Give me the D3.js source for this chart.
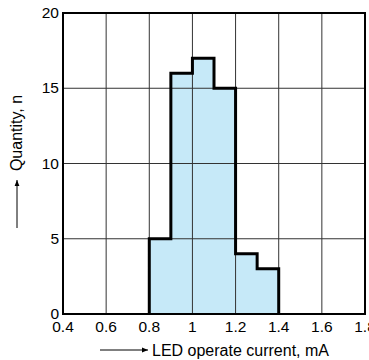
<!DOCTYPE html>
<html lang="en">
  <head>
    <meta charset="UTF-8" />
    <title>LED operate current histogram</title>
    <script src="https://d3js.org/d3.v7.min.js"></script>
    <style>
      body { margin: 0; background: #fff; }
      text { font-family: "Liberation Sans", Arial, sans-serif; fill: #000; }
    </style>
  </head>
  <body>
    <svg id="chart"></svg>
    <script>
      const WIDTH = 369;
      const HEIGHT = 360;

      // histogram bins (mA) and counts
      const binStarts = [0.8, 0.9, 1.0, 1.1, 1.2, 1.3];
      const binWidth = 0.1;
      const counts = [5, 16, 17, 15, 4, 3];

      const xTicks = [0.4, 0.6, 0.8, 1.0, 1.2, 1.4, 1.6, 1.8];
      const yTicks = [0, 5, 10, 15, 20];

      const margin = { top: 13, right: 4, bottom: 46, left: 63 };

      const svg = d3.select("#chart").attr("width", WIDTH).attr("height", HEIGHT);

      const x = d3.scaleLinear().domain([0.4, 1.8]).range([margin.left, WIDTH - margin.right]);
      const y = d3.scaleLinear().domain([0, 20]).range([HEIGHT - margin.bottom, margin.top]);

      // step outline of the histogram
      const pts = [[binStarts[0], 0]];
      binStarts.forEach((b, i) => {
        pts.push([b, counts[i]]);
        pts.push([b + binWidth, counts[i]]);
      });
      pts.push([binStarts[binStarts.length - 1] + binWidth, 0]);
      const line = d3.line().x((d) => x(d[0])).y((d) => y(d[1]));

      svg.append("path")
        .attr("d", line(pts) + "Z")
        .attr("fill", "#c6e9f8")
        .attr("stroke", "none");

      // grid
      const grid = svg.append("g");
      grid.selectAll(".vg")
        .data(xTicks.slice(1, -1))
        .enter()
        .append("line")
        .attr("x1", (d) => x(d)).attr("x2", (d) => x(d))
        .attr("y1", y(0)).attr("y2", y(20))
        .attr("stroke", "#333").attr("stroke-width", 1);
      grid.selectAll(".hg")
        .data(yTicks.slice(1, -1))
        .enter()
        .append("line")
        .attr("x1", x(0.4)).attr("x2", x(1.8))
        .attr("y1", (d) => y(d)).attr("y2", (d) => y(d))
        .attr("stroke", "#333").attr("stroke-width", 1);

      // frame
      svg.append("rect")
        .attr("x", x(0.4)).attr("y", y(20))
        .attr("width", x(1.8) - x(0.4)).attr("height", y(0) - y(20))
        .attr("fill", "none").attr("stroke", "#000").attr("stroke-width", 2);

      // histogram outline
      svg.append("path")
        .attr("d", line(pts))
        .attr("fill", "none")
        .attr("stroke", "#000")
        .attr("stroke-width", 3)
        .attr("stroke-linejoin", "miter");

      // tick labels
      svg.append("g").selectAll("text")
        .data(xTicks)
        .enter()
        .append("text")
        .attr("x", (d) => x(d))
        .attr("y", y(0) + 18)
        .attr("text-anchor", "middle")
        .attr("font-size", 15.5)
        .text((d) => d3.format("~g")(d));

      svg.append("g").selectAll("text")
        .data(yTicks)
        .enter()
        .append("text")
        .attr("x", x(0.4) - 4)
        .attr("y", (d) => y(d) + 5)
        .attr("text-anchor", "end")
        .attr("font-size", 15.5)
        .text((d) => d);

      // arrow marker
      svg.append("defs").append("marker")
        .attr("id", "arrow")
        .attr("viewBox", "0 0 10 10")
        .attr("refX", 10).attr("refY", 5)
        .attr("markerWidth", 6).attr("markerHeight", 6)
        .attr("markerUnits", "userSpaceOnUse")
        .attr("orient", "auto")
        .append("path")
        .attr("d", "M0,1L10,5L0,9Z")
        .attr("fill", "#000");

      // x axis title
      svg.append("line")
        .attr("x1", 100).attr("x2", 148)
        .attr("y1", 350).attr("y2", 350)
        .attr("stroke", "#000").attr("stroke-width", 1)
        .attr("marker-end", "url(#arrow)");
      svg.append("text")
        .attr("x", 152).attr("y", 356)
        .attr("font-size", 16)
        .text("LED operate current, mA");

      // y axis title
      svg.append("line")
        .attr("x1", 17).attr("x2", 17)
        .attr("y1", 228).attr("y2", 180)
        .attr("stroke", "#000").attr("stroke-width", 1)
        .attr("marker-end", "url(#arrow)");
      svg.append("text")
        .attr("transform", "translate(22,133) rotate(-90)")
        .attr("text-anchor", "middle")
        .attr("font-size", 16)
        .text("Quantity, n");
    </script>
  </body>
</html>
